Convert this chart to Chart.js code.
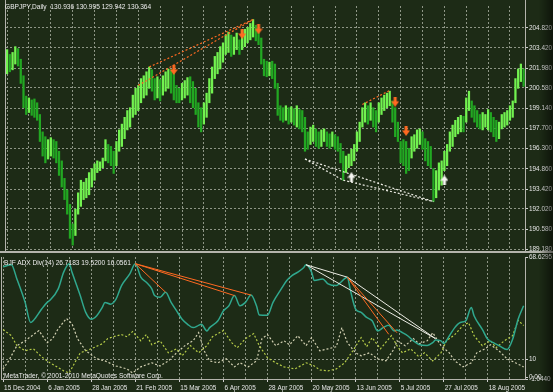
<!DOCTYPE html>
<html><head><meta charset="utf-8">
<script src="https://cdn.jsdelivr.net/npm/chart.js@4.4.0/dist/chart.umd.min.js"></script>
<style>
html,body{margin:0;padding:0;background:#1d2b16;}
#wrap{position:relative;width:553px;height:392px;background:#1d2b16;overflow:hidden;}
canvas{position:absolute;left:0;}
#c1{top:0}
#c2{top:254px}
.lbl{position:absolute;color:#ececec;font:6.6px 'Liberation Sans',Arial,sans-serif;white-space:pre;line-height:1;}
#shade{position:absolute;left:539px;top:0;width:14px;height:392px;background:linear-gradient(to right,rgba(0,0,0,0),rgba(0,0,0,0.5));pointer-events:none;}
</style></head><body>
<div id="wrap">
<canvas id="c1" width="553" height="256"></canvas>
<canvas id="c2" width="553" height="138"></canvas>
<div class="lbl" style="left:5px;top:4px">GBPJPY,Daily  130.936 130.995 129.942 130.364</div>
<div class="lbl" style="left:4px;top:260px">BJF ADX Div(14) 26.7183 19.5200 16.0561</div>
<div class="lbl" style="left:4px;top:373px">MetaTrader, © 2001-2010 MetaQuotes Software Corp.</div>
<div id="shade"></div>
</div>
<script>
// ---------- DATA ----------
const dateLabels = ["15 Dec 2004","6 Jan 2005","28 Jan 2005","21 Feb 2005","15 Mar 2005","6 Apr 2005","28 Apr 2005","20 May 2005","13 Jun 2005","5 Jul 2005","27 Jul 2005","18 Aug 2005"];
const priceTicks = [189.18,190.58,192.02,193.42,194.86,196.30,197.70,199.14,200.58,201.98,203.42,204.82];
const indTicks = [68.6295,10,0,-1.044];
const indTickText = ["68.6295","10","0.00","-1.0440"];

const highs = [
203.29,202.95,203.09,203.50,203.36,202.61,201.44,200.00,199.87,199.73,
199.80,199.53,198.70,197.47,197.13,196.92,197.06,196.92,196.79,196.10,
195.42,194.18,193.36,192.34,190.96,192.00,193.16,194.05,193.91,194.18,
194.59,194.87,195.21,195.42,195.35,195.62,196.92,196.58,196.44,196.10,
196.79,197.61,198.02,198.50,198.98,199.18,200.07,200.55,200.76,201.24,
201.44,201.72,202.06,201.86,201.24,201.37,201.17,201.44,201.72,201.92,
201.86,201.72,200.76,200.55,200.90,201.10,201.31,201.37,201.03,200.55,
199.53,199.18,199.53,200.21,201.24,202.06,202.81,203.09,203.50,203.77,
204.32,204.53,204.32,204.18,204.46,203.98,204.66,204.73,204.87,205.14,
205.42,205.01,204.87,204.11,202.61,202.47,202.40,202.47,202.27,200.90,
199.32,199.18,199.32,199.18,199.25,199.11,199.32,199.05,198.98,198.50,
197.47,197.81,197.95,197.68,197.47,197.61,197.68,197.47,197.33,197.47,
197.27,197.13,196.65,196.10,195.76,195.90,196.24,196.58,197.47,198.16,
199.18,199.53,199.32,199.53,199.18,198.98,199.53,199.87,200.07,200.21,
200.35,199.66,199.18,198.16,196.79,196.92,196.79,196.31,197.13,197.27,
197.61,197.68,197.47,196.99,196.79,196.44,194.87,194.73,195.28,195.42,
196.10,196.58,197.47,197.95,198.29,198.50,198.64,198.57,199.87,200.35,
199.66,199.32,198.98,198.70,198.84,198.70,199.05,198.84,198.50,198.29,
198.16,198.70,198.84,198.98,199.32,199.66,201.24,201.92,202.27,201.92];
const lows = [
201.58,201.72,201.86,202.27,202.13,200.90,199.18,198.70,198.84,198.64,
198.50,198.29,196.79,195.76,195.28,195.55,195.76,195.62,195.28,194.39,
193.57,192.68,191.65,189.94,189.46,190.14,191.65,192.20,192.68,192.81,
193.02,193.57,194.05,194.59,194.73,194.94,195.42,195.28,195.08,194.53,
195.08,196.10,196.44,196.99,197.61,197.81,198.50,198.70,198.98,199.53,
199.87,200.07,200.55,200.35,199.73,199.87,199.66,200.07,200.35,200.55,
200.21,199.73,199.53,199.53,199.73,199.87,200.07,199.53,199.18,198.70,
197.81,197.47,198.02,198.50,199.53,200.21,201.24,201.58,201.92,202.40,
202.95,203.09,202.81,202.95,203.29,202.95,203.29,203.50,203.77,203.98,
204.18,203.91,203.64,202.27,201.44,201.37,201.44,201.24,200.55,198.64,
198.29,198.16,198.29,198.02,198.16,197.95,197.81,197.68,197.47,196.10,
196.24,196.58,196.79,196.44,196.31,196.44,196.79,196.44,196.31,196.44,
196.24,196.10,195.28,194.05,194.59,194.94,195.08,195.42,196.10,196.79,
197.81,198.16,198.02,198.29,197.81,197.47,198.16,198.70,198.98,199.18,
199.32,198.16,197.13,196.79,195.28,195.08,194.53,194.73,195.62,196.10,
196.31,196.58,196.24,195.42,195.08,194.94,192.54,192.81,193.36,193.70,
194.73,195.08,196.10,196.44,197.13,197.33,197.47,197.47,198.16,198.98,
198.50,198.16,197.81,197.68,197.61,197.81,197.61,197.47,197.13,196.79,
196.99,197.68,197.81,197.95,198.29,198.50,199.53,200.55,201.03,200.69];

const adxX = [0,3,5,8,10,11,14,16,17,20,22,24,25,28,30,32,34,36,37,39,41,43,46,48,50,52,54,55,57,59,61,63,65,67,69,71,72,74,75,78,80,82,84,86,88,90,92,93,96,98,101,103,105,107,109,110,112,113,116,118,121,122,125,126,128,130,132,134,136,138,140,142,143,145,147,149,151,154,156,157,159,160,162,164,166,168,170,171,174,176,178,180,183,185,187,189];
const adxY = [63.0,64.2,56.1,42.7,31.2,32.4,38.9,42.7,43.9,50.4,60.0,64.8,60.0,46.6,37.0,33.1,35.1,39.8,42.7,41.7,44.6,52.3,59.0,64.8,57.1,54.2,50.4,46.6,45.6,48.5,42.7,37.9,33.1,30.2,28.3,29.6,30.2,26.4,28.3,32.2,37.9,40.8,46.6,40.8,42.7,46.9,40.8,35.5,35.4,42.7,50.4,55.2,58.1,60.0,62.3,64.2,60.0,55.2,56.1,53.3,52.3,53.3,57.1,50.4,38.9,37.0,34.1,32.2,26.4,28.3,29.6,26.4,27.0,25.4,23.5,20.7,18.7,18.1,19.7,21.2,20.7,19.3,23.5,28.3,31.2,32.2,39.8,35.1,27.3,21.6,19.7,18.1,15.8,21.6,33.1,40.8];

const diPlusX = [0,3,5,8,11,14,17,19,22,24,26,28,32,36,38,40,43,45,47,50,52,54,57,60,63,65,68,71,74,76,80,83,85,88,91,93,96,99,102,106,110,113,115,118,121,124,127,130,132,134,137,141,143,145,148,151,153,156,159,161,164,167,169,171,174,177,179,182,185,187,189];
const diPlusY = [27.2,23.7,18.0,15.1,16.2,11.6,8.2,6.4,3.6,2.4,8.2,13.9,16.2,19.1,22.0,23.1,24.3,23.1,26.0,20.8,24.3,18.5,20.8,13.9,16.2,12.2,18.0,13.9,18.0,23.1,26.6,19.7,16.8,22.0,24.9,18.0,11.1,8.2,5.9,4.7,8.2,6.4,4.1,3.6,4.7,8.2,15.1,22.6,17.4,22.6,16.2,23.7,18.0,13.9,16.2,11.6,13.9,9.3,13.9,20.8,24.3,29.5,31.2,23.7,18.0,20.8,16.8,20.8,23.7,32.4,29.5];

const diMinusX = [0,2,5,8,13,16,18,20,23,25,27,30,34,37,41,45,47,50,54,57,60,63,66,69,71,73,75,78,81,84,86,89,92,94,96,99,102,104,107,110,112,115,118,121,123,125,128,130,133,136,139,142,143,146,149,151,154,156,159,162,164,167,170,172,175,177,180,183,186,189];
const diMinusY = [4.7,9.3,18.0,20.8,26.6,19.7,22.0,27.7,33.5,30.6,22.0,15.1,10.5,9.3,6.4,4.7,2.4,5.9,8.2,6.4,9.3,13.9,18.0,20.8,25.4,15.1,9.3,8.2,10.5,5.9,8.2,5.9,9.3,22.0,24.3,18.0,20.8,18.5,23.7,18.0,22.6,15.1,16.2,17.4,28.3,19.7,13.9,12.2,13.9,10.5,9.3,16.2,20.8,18.0,22.0,19.1,20.8,25.4,18.0,13.9,9.3,5.9,8.2,13.9,16.2,18.5,15.1,10.5,8.2,5.9];

// divergence segments: [bar1, value1, bar2, value2]
const priceDivBear = [[48,200.76,90,205.42],[52,202.06,90,205.42],[130,199.41,140,200.40]];
const priceDivBull = [[109,195.55,156,192.54],[109,195.55,123,194.05],[123,194.05,156,192.54]];
const adxDivBear = [[48,64.8,59,48.5],[48,64.8,84,46.6],[48,64.8,90,46.9],[125,57.1,140,24.5],[125,57.1,143,25.4]];
const adxDivBull = [[110,64.2,125,57.1],[110,64.2,157,22.0],[125,57.1,157,22.0]];
// signal arrows: [bar, price]
const sellArrows = [[61,201.85],[86,204.39],[92,204.73],[142,199.60],[146,197.54]];
const buyArrows = [[126,194.26],[160,194.05]];

// ---------- STYLE ----------
const GRID = '#8e9686', TXT = '#e6e6e6', FRAME = '#b4b4ac';
const UP = '#72f250', DN = '#22a822';
const ADXC = '#30a88e', DIP = '#b6cc48', DIM = '#d2d0b2';
const ORANGE = '#ff6a22', WHITE = '#ececE4';
const XMIN = -0.4, XMAX = 189.5;
const PMIN = 189.115, PMAX = 206.375;
const labelStep = 16, gridStep = 8;

Chart.defaults.font.family = "'Liberation Sans', Arial, sans-serif";
Chart.defaults.font.size = 6.4;
Chart.defaults.color = TXT;

const gridTicks = [];
for (let v = 0; v <= XMAX; v += gridStep) gridTicks.push(v);

function arrowImg(color, up) {
  const c = document.createElement('canvas'); c.width = 8; c.height = 10;
  const g = c.getContext('2d'); g.fillStyle = color; g.beginPath();
  if (!up) { g.fillRect(2.5, 0, 3, 5); g.moveTo(0, 4.5); g.lineTo(8, 4.5); g.lineTo(4, 10); }
  else { g.fillRect(2.5, 5, 3, 5); g.moveTo(0, 5.5); g.lineTo(8, 5.5); g.lineTo(4, 0); }
  g.closePath(); g.fill(); return c;
}
const segDatasets = (segs, color, dash, width, order) => segs.map(s => ({
  type: 'line', data: [{x: s[0], y: s[1]}, {x: s[2], y: s[3]}],
  borderColor: color, borderWidth: width, borderDash: dash, pointRadius: 0, order: order
}));

const frame = (isTop) => ({
  id: 'frame' + (isTop ? 1 : 2),
  afterDraw(c) {
    const ctx = c.ctx, a = c.chartArea;
    ctx.save(); ctx.strokeStyle = FRAME; ctx.lineWidth = 1; ctx.beginPath();
    const t = isTop ? 0 : a.top;
    ctx.moveTo(a.left - 0.5, t); ctx.lineTo(a.left - 0.5, a.bottom + 1);
    ctx.moveTo(a.right + 0.5, t); ctx.lineTo(a.right + 0.5, a.bottom + 1);
    if (!isTop) { ctx.moveTo(a.left - 1, a.bottom + 0.5); ctx.lineTo(a.right + 1, a.bottom + 0.5); }
    ctx.stroke();
    if (isTop) { ctx.fillStyle = FRAME; ctx.fillRect(0, a.bottom + 1, c.width, 2); }
    ctx.restore();
  }
});

// ---------- PRICE PANE ----------
const barData = highs.map((h, i) => ({x: i, y: [lows[i], h]}));
const mids = highs.map((h, i) => (h + lows[i]) / 2);

new Chart(document.getElementById('c1'), {
  type: 'bar',
  data: { datasets: [
    { type: 'bar', data: barData, barThickness: 1.6, borderWidth: 0, order: 10,
      backgroundColor: ctx => { const i = ctx.dataIndex; return (i > 0 && mids[i] < mids[i - 1]) ? DN : UP; } },
    ...segDatasets(priceDivBear, ORANGE, [2, 2], 1.2, 2),
    ...segDatasets(priceDivBull, WHITE, [2, 2], 1.2, 2),
    { type: 'line', showLine: false, data: sellArrows.map(a => ({x: a[0], y: a[1]})), pointStyle: arrowImg(ORANGE, false), pointRadius: 5, order: 0 },
    { type: 'line', showLine: false, data: buyArrows.map(a => ({x: a[0], y: a[1]})), pointStyle: arrowImg('#f6f6f2', true), pointRadius: 5, order: 0 }
  ]},
  options: {
    responsive: false, animation: false, devicePixelRatio: 1,
    layout: { padding: { left: 2, top: 0, right: 0, bottom: 4 } },
    plugins: { legend: { display: false }, tooltip: { enabled: false } },
    scales: {
      x: { type: 'linear', min: XMIN, max: XMAX, offset: false,
        afterBuildTicks: s => { s.ticks = gridTicks.map(v => ({value: v})); },
        afterFit: s => { s.height = 0; s.paddingLeft = 0; s.paddingRight = 0; },
        ticks: { display: false },
        grid: { color: GRID, offset: false, drawTicks: false },
        border: { display: false, dash: [2, 2] } },
      y: { type: 'linear', position: 'right', min: PMIN, max: PMAX,
        afterBuildTicks: s => { s.ticks = priceTicks.map(v => ({value: v})); },
        afterFit: s => { s.width = 28; s.paddingTop = 0; s.paddingBottom = 0; },
        ticks: { padding: 1, color: TXT, callback: v => Number(v).toFixed(3) },
        grid: { color: GRID, drawTicks: true, tickLength: 3, tickColor: '#cfcfcf', tickBorderDash: [] },
        border: { display: false, dash: [2, 2] } }
    }
  },
  plugins: [frame(true)]
});

// ---------- INDICATOR PANE ----------
const pts = (xs, ys) => xs.map((x, i) => ({x: x, y: ys[i]}));
new Chart(document.getElementById('c2'), {
  type: 'line',
  data: { datasets: [
    { data: pts(diPlusX, diPlusY), borderColor: DIP, borderWidth: 1.2, borderDash: [2, 2], pointRadius: 0, order: 5 },
    { data: pts(diMinusX, diMinusY), borderColor: DIM, borderWidth: 1.2, borderDash: [2, 2], pointRadius: 0, order: 5 },
    { data: pts(adxX, adxY), borderColor: ADXC, borderWidth: 1.5, pointRadius: 0, cubicInterpolationMode: 'monotone', order: 3 },
    ...segDatasets(adxDivBear, ORANGE, [], 1, 1),
    ...segDatasets(adxDivBull, WHITE, [], 1, 1)
  ]},
  options: {
    responsive: false, animation: false, devicePixelRatio: 1,
    layout: { padding: { left: 2, top: 3, right: 0, bottom: 0 } },
    plugins: { legend: { display: false }, tooltip: { enabled: false } },
    scales: {
      x: { type: 'linear', min: XMIN, max: XMAX, offset: false,
        afterBuildTicks: s => { s.ticks = gridTicks.map(v => ({value: v})); },
        afterFit: s => { s.height = 13; s.paddingLeft = 0; s.paddingRight = 0; },
        ticks: { autoSkip: false, maxRotation: 0, minRotation: 0, align: 'start', padding: 2, labelOffset: 1, color: TXT,
          callback: v => (v % labelStep === 0 ? dateLabels[v / labelStep] : '') },
        grid: { color: GRID, offset: false, drawTicks: true, tickLength: 3, tickBorderDash: [],
          tickColor: ctx => (ctx.tick && ctx.tick.value % labelStep === 0 ? '#cfcfcf' : 'rgba(0,0,0,0)') },
        border: { display: false, dash: [2, 2] } },
      y: { type: 'linear', position: 'right', min: -1.044, max: 68.6295,
        afterBuildTicks: s => { s.ticks = indTicks.map(v => ({value: v})); },
        afterFit: s => { s.width = 28; s.paddingTop = 0; s.paddingBottom = 0; },
        ticks: { padding: 1, color: TXT, callback: (v, i) => indTickText[i] },
        grid: { color: ctx => (ctx.tick && ctx.tick.value === 10 ? GRID : 'rgba(0,0,0,0)'), drawTicks: true, tickLength: 3, tickColor: '#cfcfcf', tickBorderDash: [] },
        border: { display: false, dash: [2, 2] } }
    }
  },
  plugins: [frame(false)]
});
</script>
</body></html>
